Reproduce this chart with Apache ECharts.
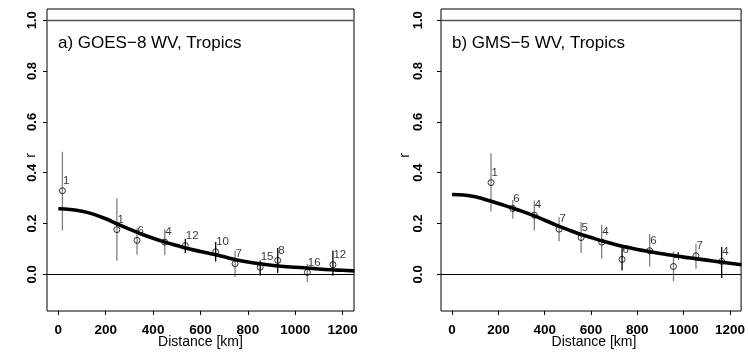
<!DOCTYPE html>
<html>
<head>
<meta charset="utf-8">
<script src="https://cdn.jsdelivr.net/npm/echarts@6/dist/echarts.min.js"></script>
<style>html,body{margin:0;padding:0;background:#fff}#c{width:748px;height:354px}</style>
</head>
<body>
<div id="c"></div>
<script>
// ---- data ----
const panelTitles = ['a) GOES\u22128 WV, Tropics', 'b) GMS\u22125 WV, Tropics'];
const xTicks = [0, 200, 400, 600, 800, 1000, 1200];
const yTicks = [0.0, 0.2, 0.4, 0.6, 0.8, 1.0];

const distA = [17, 247, 332, 449, 536, 664, 746, 852, 926, 1051, 1159];
const rA    = [0.329, 0.176, 0.134, 0.127, 0.113, 0.089, 0.042, 0.028, 0.055, 0.008, 0.038];
const loA   = [0.173, 0.054, 0.077, 0.075, 0.084, 0.051, -0.010, -0.004, 0.005, -0.030, -0.005];
const hiA   = [0.483, 0.300, 0.182, 0.178, 0.140, 0.127, 0.093, 0.055, 0.104, 0.042, 0.094];
const nA    = ['1', '1', '6', '4', '12', '10', '7', '15', '8', '16', '12'];
const sigA  = [0, 0, 0, 0, 1, 1, 0, 1, 1, 0, 1];

const distB = [168, 262, 355, 462, 557, 646, 734, 853, 956, 1053, 1164];
const rB    = [0.361, 0.259, 0.233, 0.178, 0.145, 0.127, 0.059, 0.093, 0.031, 0.073, 0.051];
const loB   = [0.247, 0.220, 0.173, 0.130, 0.084, 0.062, 0.015, 0.031, -0.027, 0.022, -0.014];
const hiB   = [0.477, 0.293, 0.291, 0.225, 0.206, 0.195, 0.108, 0.159, 0.090, 0.119, 0.108];
const nB    = ['1', '6', '4', '7', '5', '4', '6', '6', '4', '7', '4'];
const sigB  = [0, 0, 0, 0, 0, 0, 1, 0, 0, 0, 1];

const curveKm = [0,50,100,150,200,250,300,350,400,450,500,550,600,650,700,750,800,850,900,950,1000,1050,1100,1150,1200,1250];
const fitA = [0.258,0.255,0.248,0.236,0.219,0.198,0.178,0.159,0.142,0.127,0.114,0.101,0.090,0.080,0.069,0.058,0.049,0.042,0.036,0.031,0.028,0.025,0.021,0.018,0.016,0.014];
const fitB = [0.314,0.312,0.305,0.293,0.279,0.264,0.249,0.232,0.213,0.194,0.176,0.159,0.145,0.131,0.119,0.108,0.098,0.090,0.082,0.075,0.068,0.062,0.056,0.050,0.044,0.038];

// ---- chart ----
const FONT = '"Liberation Sans", Arial, Helvetica, sans-serif';
const chart = echarts.init(document.getElementById('c'), null, {renderer: 'canvas'});

const grids = [
  {left: 47, top: 9, width: 307, height: 302},
  {left: 441, top: 9, width: 306, height: 302}
];
const yLabelMargin = [15, 22.5];

function xAxisFor(i) {
  return {
    gridIndex: i, type: 'value', min: -48, max: 1248, position: 'bottom',
    axisLine: {show: false, onZero: false},
    splitLine: {show: false},
    axisTick: {show: true, inside: false, length: 4, customValues: xTicks, lineStyle: {color: '#000', width: 1}},
    axisLabel: {show: true, customValues: xTicks, margin: 12, color: '#000', fontSize: 13.5, fontWeight: 'bold', fontFamily: FONT,
      formatter: v => String(Math.round(v))}
  };
}
function yAxisFor(i) {
  return {
    gridIndex: i, type: 'value', min: -0.144, max: 1.044, position: 'left',
    axisLine: {show: false, onZero: false},
    splitLine: {show: false},
    axisTick: {show: true, inside: false, length: 4, customValues: yTicks, lineStyle: {color: '#000', width: 1}},
    axisLabel: {show: true, customValues: yTicks, rotate: 90, margin: yLabelMargin[i], align: 'center', verticalAlign: 'middle',
      color: '#000', fontSize: 13, fontWeight: 'bold', fontFamily: FONT,
      formatter: v => Number(v).toFixed(1)}
  };
}

function errSeries(i, dist, lo, hi, sig) {
  return {
    type: 'custom', xAxisIndex: i, yAxisIndex: i, z: 1, silent: true, clip: true,
    data: dist.map((d, k) => [d, lo[k], hi[k], sig[k]]),
    renderItem: (params, api) => {
      const p1 = api.coord([api.value(0), api.value(1)]);
      const p2 = api.coord([api.value(0), api.value(2)]);
      return {type: 'line', shape: {x1: p1[0], y1: p1[1], x2: p2[0], y2: p2[1]},
        style: {stroke: api.value(3) ? '#000' : '#808080', lineWidth: 1.3}};
    }
  };
}
function pointSeries(i, dist, r, labels) {
  return {
    type: 'scatter', xAxisIndex: i, yAxisIndex: i, z: 2, silent: true,
    symbol: 'circle', symbolSize: 6,
    itemStyle: {color: 'rgba(0,0,0,0)', borderColor: '#000', borderWidth: 1},
    label: {show: true, position: [4, -6.5], align: 'left', verticalAlign: 'middle',
      formatter: p => labels[p.dataIndex], color: '#000', fontSize: 11.5, fontFamily: FONT},
    data: dist.map((d, k) => [d, r[k]])
  };
}
function curveSeries(i, fit) {
  return {
    type: 'line', xAxisIndex: i, yAxisIndex: i, z: 3, silent: true, smooth: 0.4, showSymbol: false,
    clip: true,
    lineStyle: {color: '#000', width: 3.6},
    data: curveKm.map((d, k) => [d, fit[k]]),
    markLine: {
      silent: true, symbol: 'none', label: {show: false},
      data: [
        {yAxis: 1, lineStyle: {color: '#555', width: 1.3, type: 'solid'}},
        {yAxis: 0, lineStyle: {color: '#000', width: 1, type: 'solid'}}
      ]
    }
  };
}

const graphics = [];
const titleX = [58, 452];
const rX = [31, 405];
const distX = [200.5, 594];
for (let i = 0; i < 2; i++) {
  graphics.push({type: 'text', x: titleX[i], y: 43.6, z: 10,
    style: {text: panelTitles[i], fontSize: 17, fontFamily: FONT, fill: '#000', align: 'left', verticalAlign: 'middle'}});
  graphics.push({type: 'text', x: distX[i], y: 342.3, z: 10,
    style: {text: 'Distance [km]', fontSize: 14, fontFamily: FONT, fill: '#000', align: 'center', verticalAlign: 'middle'}});
  graphics.push({type: 'text', x: rX[i], y: 155.5, rotation: Math.PI / 2, z: 10,
    style: {text: 'r', fontSize: 14, fontFamily: FONT, fill: '#000', align: 'center', verticalAlign: 'middle'}});
}

chart.setOption({
  animation: false,
  backgroundColor: '#fff',
  textStyle: {fontFamily: FONT},
  grid: grids.map(g => Object.assign({show: true, borderColor: '#000', borderWidth: 1, backgroundColor: 'transparent', containLabel: false}, g)),
  xAxis: [xAxisFor(0), xAxisFor(1)],
  yAxis: [yAxisFor(0), yAxisFor(1)],
  series: [
    errSeries(0, distA, loA, hiA, sigA),
    pointSeries(0, distA, rA, nA),
    curveSeries(0, fitA),
    errSeries(1, distB, loB, hiB, sigB),
    pointSeries(1, distB, rB, nB),
    curveSeries(1, fitB)
  ],
  graphic: graphics
});
</script>
</body>
</html>
